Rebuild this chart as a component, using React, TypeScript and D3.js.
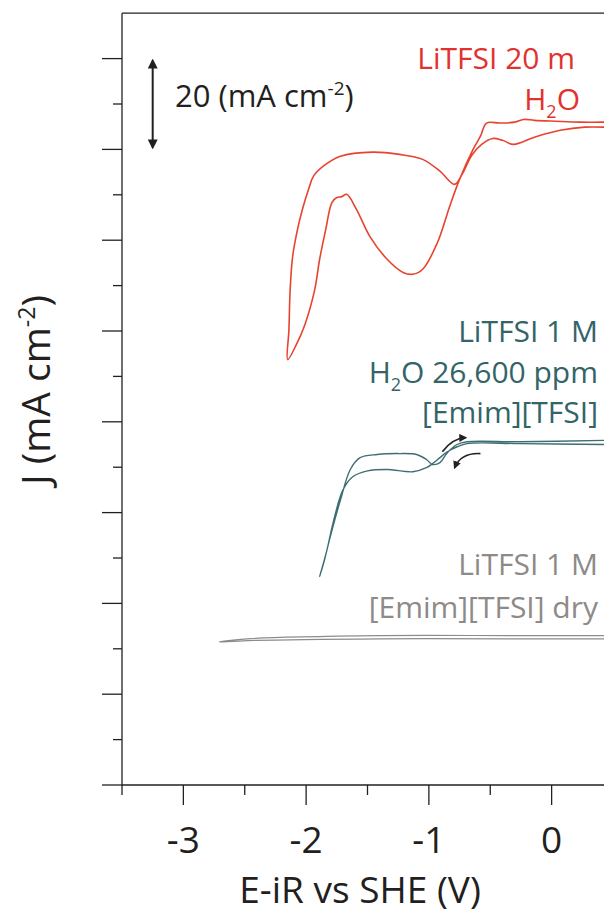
import React from 'react';
import * as d3 from 'd3';

// LiTFSI 20 m in water (offset trace)
const redE = [0.43, 0.23, 0.03, -0.14, -0.23, -0.30, -0.42, -0.53, -0.58, -0.64, -0.75, -0.83, -0.93, -1.05, -1.13, -1.21, -1.34, -1.48, -1.59, -1.67, -1.71, -1.75, -1.79, -1.84, -1.89, -1.93, -2.01, -2.08, -2.15,
  -2.14, -2.13, -2.11, -2.07, -2.03, -1.98, -1.94, -1.86, -1.72, -1.46, -1.24, -1.05, -0.91, -0.79, -0.73, -0.65, -0.57, -0.48, -0.40, -0.31, -0.14, 0.07, 0.27, 0.43];
const redJ = [146.0, 146.0, 146.2, 146.4, 146.6, 146.0, 145.8, 145.8, 142.9, 140.0, 133.4, 127.5, 119.5, 113.6, 112.5, 112.9, 115.8, 120.8, 126.8, 130.1, 129.6, 129.4, 128.3, 122.4, 115.8, 109.1, 101.4, 97.0, 93.7,
  100.3, 109.1, 116.4, 122.4, 126.8, 131.2, 134.1, 136.3, 138.5, 139.4, 138.9, 137.8, 135.2, 132.3, 134.5, 138.7, 141.1, 142.4, 142.0, 141.1, 142.7, 144.2, 144.9, 144.9];

// LiTFSI 1 M, H2O 26,600 ppm in [Emim][TFSI]
const tealE = [0.43, -0.26, -0.69, -0.77, -0.85, -0.91, -0.97, -1.02, -1.10, -1.24, -1.42, -1.56, -1.64, -1.72, -1.81, -1.85, -1.89,
  -1.83, -1.78, -1.70, -1.62, -1.50, -1.34, -1.13, -1.02, -0.97, -0.91, -0.85, -0.77, -0.69, -0.26, 0.43];
const tealJ = [75.9, 75.6, 75.6, 75.0, 73.2, 71.0, 70.6, 71.7, 72.8, 73.0, 72.8, 72.1, 69.5, 62.8, 54.0, 49.6, 45.9,
  51.8, 57.8, 65.0, 67.9, 69.2, 69.5, 69.0, 69.9, 70.8, 72.1, 73.4, 74.5, 75.2, 75.2, 75.0];

// LiTFSI 1 M in dry [Emim][TFSI]
const dryE = [0.43, -0.31, -1.40, -2.48, -2.71, -2.48, -1.40, -0.31, 0.43];
const dryJ = [32.9, 32.9, 32.9, 32.2, 31.5, 31.8, 32.2, 32.2, 32.2];

const xTickValues = [-3.5, -3, -2.5, -2, -1.5, -1, -0.5, 0, 0.5];
const xTickLabels = ['-3', '-2', '-1', '0'];
const yTickValues = d3.range(0, 161, 10);

// scan direction arrows, [E, J] start / control / end
const scanArrows = [
  [[-0.89, 73.4], [-0.81, 76.4], [-0.70, 76.5]],
  [[-0.58, 73.0], [-0.74, 73.2], [-0.79, 69.9]],
];
const scaleBar = [-3.25, 160, 140];

const FONT = "'Open Sans', 'Noto Sans', sans-serif";
const INK = '#231f20';

export default function App() {
  const width = 604;
  const height = 914;

  const x = d3.scaleLinear().domain([-3.5, 0.5]).range([122, 613]);
  const y = d3.scaleLinear().domain([0, 170]).range([785, 13.2]);

  const line = d3.line<[number, number]>()
    .x(d => x(d[0]))
    .y(d => y(d[1]))
    .curve(d3.curveCatmullRom.alpha(0.5));

  const zipPts = (es: number[], js: number[]) => es.map((e, i) => [e, js[i]] as [number, number]);

  const traces = [
    { pts: zipPts(redE, redJ), color: '#e8432f', w: 1.6 },
    { pts: zipPts(tealE, tealJ), color: '#3d6e73', w: 1.4 },
    { pts: zipPts(dryE, dryJ), color: '#8c8c8c', w: 1.2 },
  ];

  return (
    <svg width={width} height={height} style={{ position: 'absolute', left: 0, top: 0, background: '#fff' }}
      fontFamily={FONT}>
      <defs>
        <marker id="head" viewBox="0 0 10 10" refX="8" refY="5" markerWidth="5" markerHeight="5"
          orient="auto-start-reverse">
          <path d="M0,0 L10,5 L0,10 z" fill={INK} />
        </marker>
      </defs>

      {/* frame */}
      <line x1={x(-3.5)} x2={width} y1={y(170)} y2={y(170)} stroke={INK} strokeWidth={1.3} />
      <line x1={x(-3.5)} x2={x(-3.5)} y1={y(170)} y2={y(0)} stroke={INK} strokeWidth={1.3} />
      <line x1={x(-3.5)} x2={width} y1={y(0)} y2={y(0)} stroke={INK} strokeWidth={1.3} />

      {/* y ticks */}
      {yTickValues.map(v => (
        <line key={'y' + v} x1={x(-3.5) - (v % 20 === 0 ? 20 : 9)} x2={x(-3.5)} y1={y(v)} y2={y(v)}
          stroke={INK} strokeWidth={1.3} />
      ))}
      {/* x ticks */}
      {xTickValues.map(v => (
        <line key={'x' + v} x1={x(v)} x2={x(v)} y1={y(0)} y2={y(0) + (Number.isInteger(v) ? 20 : 10)}
          stroke={INK} strokeWidth={1.3} />
      ))}
      {xTickLabels.map(t => (
        <text key={'l' + t} x={x(+t)} y={853} textAnchor="middle" fontSize={37} fill={INK}>{t}</text>
      ))}

      <text x={360} y={903} textAnchor="middle" fontSize={37} fill={INK}>E-iR vs SHE (V)</text>
      <text transform="translate(50,390) rotate(-90)" textAnchor="middle" fontSize={39} fill={INK}>
        J (mA cm<tspan fontSize={23} dy={-15}>-2</tspan><tspan dy={15}>)</tspan>
      </text>

      {/* traces */}
      {traces.map((t, i) => (
        <path key={i} d={line(t.pts) || ''} fill="none" stroke={t.color} strokeWidth={t.w}
          strokeLinejoin="round" />
      ))}

      {/* scan direction arrows */}
      {scanArrows.map((a, i) => (
        <path key={'a' + i}
          d={`M${x(a[0][0])},${y(a[0][1])} Q${x(a[1][0])},${y(a[1][1])} ${x(a[2][0])},${y(a[2][1])}`}
          fill="none" stroke={INK} strokeWidth={1.6} markerEnd="url(#head)" />
      ))}

      {/* scale bar */}
      <line x1={x(scaleBar[0])} x2={x(scaleBar[0])} y1={y(scaleBar[1]) + 2} y2={y(scaleBar[2]) - 2}
        stroke={INK} strokeWidth={2} markerStart="url(#head)" markerEnd="url(#head)" />
      <text x={175} y={107} fontSize={31} fill={INK}>
        20 (mA cm<tspan fontSize={19} dy={-12}>-2</tspan><tspan dy={12}>)</tspan>
      </text>

      {/* labels */}
      <g fontSize={30} textAnchor="end">
        <text x={575} y={69} fill="#e3322e">LiTFSI 20 m</text>
        <text x={580} y={110} fill="#e3322e">H<tspan fontSize={18} dy={8}>2</tspan><tspan dy={-8}>O</tspan></text>

        <text x={598} y={342} fill="#336468">LiTFSI 1 M</text>
        <text x={598} y={383} fill="#336468">H<tspan fontSize={18} dy={8}>2</tspan><tspan dy={-8}>O 26,600 ppm</tspan></text>
        <text x={598} y={423} fill="#336468">[Emim][TFSI]</text>

        <text x={598} y={575} fill="#8e8a88">LiTFSI 1 M</text>
        <text x={598} y={618} fill="#8e8a88">[Emim][TFSI] dry</text>
      </g>
    </svg>
  );
}
